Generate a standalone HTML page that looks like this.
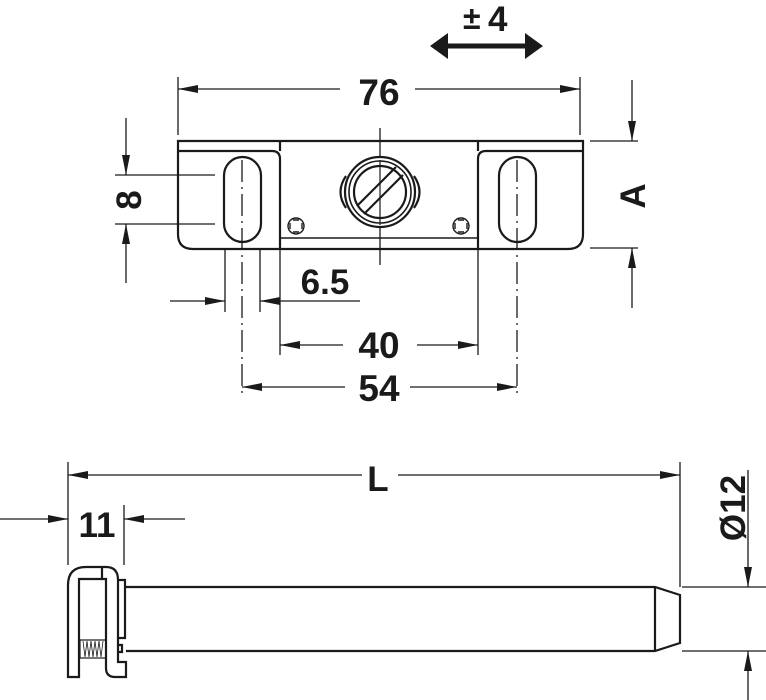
<!DOCTYPE html>
<html><head><meta charset="utf-8"><style>
html,body{margin:0;padding:0;background:#fff;}
svg{display:block}
text{font-family:"Liberation Sans",Arial,sans-serif;font-weight:bold;fill:#1a1a1a}
</style></head><body>
<svg width="766" height="700" viewBox="0 0 766 700" xmlns="http://www.w3.org/2000/svg">
<defs>
<marker id="a" viewBox="0 0 20 8" refX="20" refY="4" markerWidth="20" markerHeight="8" markerUnits="userSpaceOnUse" orient="auto-start-reverse"><path d="M0,0 L20,4 L0,8 Z" fill="#1a1a1a"/></marker>
</defs>
<g stroke="#1a1a1a" fill="none">
<line x1="440" y1="46" x2="533" y2="46" stroke-width="5"/>
<path d="M430,46 L448,33 L448,59 Z M543,46 L525,33 L525,59 Z" fill="#1a1a1a" stroke="none"/>
<g stroke-width="1.3">
<line x1="178" y1="77" x2="178" y2="135"/>
<line x1="580" y1="77" x2="580" y2="135"/>
<line x1="178" y1="89" x2="340" y2="89" marker-start="url(#a)"/>
<line x1="415" y1="89" x2="580" y2="89" marker-end="url(#a)"/>
<line x1="380" y1="128" x2="380" y2="265"/>
<line x1="590" y1="141" x2="638" y2="141"/>
<line x1="590" y1="248" x2="638" y2="248"/>
<line x1="632" y1="80" x2="632" y2="141" marker-end="url(#a)"/>
<line x1="632" y1="308" x2="632" y2="248" marker-end="url(#a)"/>
<line x1="115" y1="175" x2="215" y2="175"/>
<line x1="115" y1="224" x2="215" y2="224"/>
<line x1="126" y1="118" x2="126" y2="175" marker-end="url(#a)"/>
<line x1="126" y1="283" x2="126" y2="224" marker-end="url(#a)"/>
<line x1="225" y1="250" x2="225" y2="312"/>
<line x1="260" y1="250" x2="260" y2="312"/>
<line x1="170" y1="301" x2="225" y2="301" marker-end="url(#a)"/>
<line x1="360" y1="301" x2="260" y2="301" marker-end="url(#a)"/>
<line x1="242" y1="160" x2="242" y2="398" stroke-dasharray="22,5,2,5"/>
<line x1="517" y1="160" x2="517" y2="398" stroke-dasharray="22,5,2,5"/>
<line x1="280" y1="250" x2="280" y2="355"/>
<line x1="478" y1="250" x2="478" y2="355"/>
<line x1="280" y1="345" x2="343" y2="345" marker-start="url(#a)"/>
<line x1="417" y1="345" x2="478" y2="345" marker-end="url(#a)"/>
<line x1="242" y1="387" x2="345" y2="387" marker-start="url(#a)"/>
<line x1="410" y1="387" x2="517" y2="387" marker-end="url(#a)"/>
<line x1="68" y1="462" x2="68" y2="565"/>
<line x1="680" y1="462" x2="680" y2="587"/>
<line x1="68" y1="475" x2="362" y2="475" marker-start="url(#a)"/>
<line x1="398" y1="475" x2="680" y2="475" marker-end="url(#a)"/>
<line x1="124" y1="505" x2="124" y2="565"/>
<line x1="0" y1="519" x2="68" y2="519" marker-end="url(#a)"/>
<line x1="185" y1="519" x2="124" y2="519" marker-end="url(#a)"/>
<line x1="682" y1="587" x2="766" y2="587"/>
<line x1="682" y1="651" x2="766" y2="651"/>
<line x1="748" y1="470" x2="748" y2="587" marker-end="url(#a)"/>
<line x1="748" y1="700" x2="748" y2="651" marker-end="url(#a)"/>
</g>
<g stroke-width="2.2">
<path d="M178,141 H583 V234 Q583,249 568,249 H193 Q178,249 178,234 Z"/>
<path d="M178,151 H272 Q280,151 280,159 V249"/>
<path d="M583,151 H486 Q478,151 478,159 V249"/>
<line x1="280" y1="141" x2="280" y2="151"/>
<line x1="478" y1="141" x2="478" y2="151"/>
<line x1="280" y1="238" x2="478" y2="238" stroke-width="1.6"/>
<rect x="224" y="157" width="37" height="85" rx="18.5"/>
<rect x="499" y="157" width="37" height="85" rx="18.5"/>
<path d="M346,176 Q335,192 346,208" />
<path d="M414,176 Q425,192 414,208" />
<circle cx="380" cy="192" r="35" fill="#fff"/>
<circle cx="380" cy="192" r="31" stroke-width="1.6"/>
<circle cx="380" cy="192" r="26"/>
<line x1="357" y1="206" x2="396" y2="167"/>
<line x1="364" y1="214" x2="403" y2="175"/>
<g stroke-width="1.4">
<circle cx="296" cy="226" r="8"/>
<circle cx="461" cy="226" r="8"/>
<path d="M293,220 h6 M293,232 h6 M290,223 v6 M302,223 v6"/>
<path d="M458,220 h6 M458,232 h6 M455,223 v6 M467,223 v6"/>
</g>
</g>
<line x1="380" y1="160" x2="380" y2="225" stroke-width="1.2"/>
<g stroke-width="2.2">
<path d="M126,587 H655 L680,595 V643 L655,651 H126"/>
<line x1="655" y1="587" x2="655" y2="651"/>
<path d="M68,677 V585 Q68,567 86,567 H106 Q118,567 118,580 V662 H126 V677 H115 Q106,677 106,668 V579 H79 V677 Z" fill="#fff"/>
<line x1="102" y1="567" x2="102" y2="579"/>
<path d="M118,580 H125 V638 H118 M118,645 H122 V652 H118"/>
<rect x="80" y="640" width="26" height="18" stroke-width="1.2"/>
<path d="M83,641 l2,16 l2,-16 l2,16 l2,-16 l2,16 l2,-16 l2,16 l2,-16 l2,16 l2,-16" stroke-width="0.8"/>
</g>
</g>
<text x="379" y="105" font-size="37" text-anchor="middle">76</text>
<text x="463" y="29" font-size="32">±</text>
<text x="488" y="31" font-size="35">4</text>
<text x="325" y="294" font-size="35" text-anchor="middle">6.5</text>
<text x="379" y="358" font-size="37" text-anchor="middle">40</text>
<text x="379" y="401" font-size="37" text-anchor="middle">54</text>
<text x="378" y="491" font-size="35" text-anchor="middle">L</text>
<text x="97" y="537" font-size="35" text-anchor="middle">11</text>
<text transform="translate(645,196) rotate(-90)" font-size="35" text-anchor="middle">A</text>
<text transform="translate(141,200) rotate(-90)" font-size="35" text-anchor="middle">8</text>
<text transform="translate(745,508) rotate(-90)" font-size="35" text-anchor="middle">Ø12</text>
</svg>
</body></html>
